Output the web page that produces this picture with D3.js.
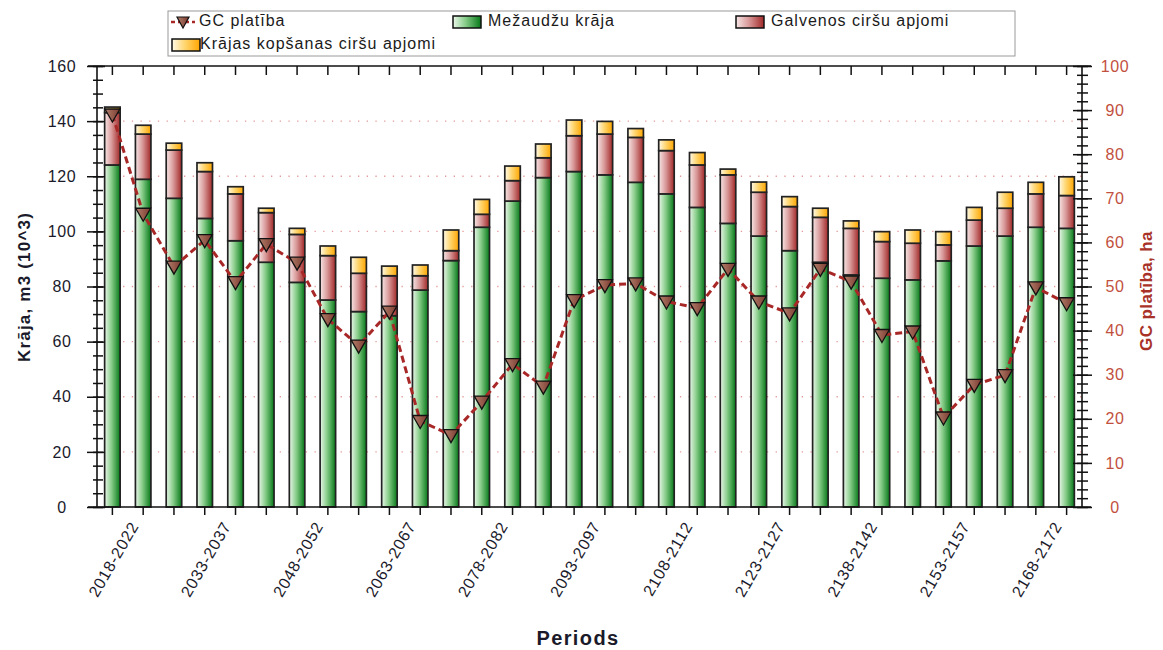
<!DOCTYPE html>
<html><head><meta charset="utf-8">
<script src="https://cdn.jsdelivr.net/npm/d3@7"></script>
<style>
body{margin:0;background:#fff;}
svg{display:block;font-family:"Liberation Sans",Arial,sans-serif;}
</style></head>
<body>
<svg id="chart" width="1163" height="650"></svg>
<script>
const periods = ["2018-2022","2023-2027","2028-2032","2033-2037","2038-2042","2043-2047","2048-2052","2053-2057","2058-2062","2063-2067","2068-2072","2073-2077","2078-2082","2083-2087","2088-2092","2093-2097","2098-2102","2103-2107","2108-2112","2113-2117","2118-2122","2123-2127","2128-2132","2133-2137","2138-2142","2143-2147","2148-2152","2153-2157","2158-2162","2163-2167","2168-2172","2173-2177"];
const mezauduKraja = [124.1,118.9,112.0,104.7,96.6,88.8,81.5,75.1,70.9,69.4,78.7,89.4,101.5,111.0,119.5,121.7,120.5,117.8,113.6,108.7,102.9,98.3,93.0,88.8,84.2,83.0,82.4,89.3,94.7,98.3,101.5,101.1];
const galvenosCirsi = [19.0,16.4,17.5,17.0,17.0,18.0,17.4,16.1,13.9,14.5,5.2,3.6,4.7,7.4,7.2,13.0,14.8,16.3,15.7,15.4,17.6,15.9,16.0,16.3,16.9,13.3,13.3,5.8,9.4,10.1,12.1,11.9];
const kopsanasCirsi = [2.0,3.2,2.5,3.2,2.6,1.6,2.2,3.5,5.8,3.5,3.9,7.5,5.4,5.3,5.0,5.7,4.6,3.2,3.9,4.5,2.1,3.7,3.6,3.3,2.7,3.6,4.8,4.8,4.6,5.8,4.2,6.8];
const gcPlatiba = [89,66.5,54.5,60.5,51,59.6,55.4,42.6,36.6,44.3,19.5,16.3,23.9,32.4,27.3,46.9,50.3,50.7,46.6,45.1,54.0,46.6,43.9,54.0,51.1,39.0,39.8,20.3,27.7,29.9,49.8,46.2];
const leftTicks = [0,20,40,60,80,100,120,140,160];
const rightTicks = [0,10,20,30,40,50,60,70,80,90,100];
const seriesNames = ["Mežaudžu krāja","Galvenos ciršu apjomi","Krājas kopšanas ciršu apjomi"];
const lineName = "GC platība";

const svg = d3.select("#chart");
const L = 97, R = 1082, T = 66, B = 507;
const x = d3.scaleBand().domain(periods).range([L, R]);
const y = d3.scaleLinear().domain([0,160]).range([B, T]);
const y2 = d3.scaleLinear().domain([0,100]).range([B, T]);
const font = '"Liberation Sans",Arial,sans-serif';

// gradients
const defs = svg.append("defs");
function grad(id, c0, c1, c2){
  const g = defs.append("linearGradient").attr("id", id).attr("x1",0).attr("x2",1).attr("y1",0).attr("y2",0);
  g.append("stop").attr("offset","0%").attr("stop-color",c0);
  g.append("stop").attr("offset","45%").attr("stop-color",c1);
  g.append("stop").attr("offset","100%").attr("stop-color",c2);
}
grad("gGreen","#eaf7ea","#86cc88","#067818");
grad("gRed","#f7e6e6","#d99a9a","#a22828");
grad("gYellow","#fffaea","#ffd670","#ffa600");
grad("gMarker","#b0806e","#9a6050","#7a3a30");
const fills = ["url(#gGreen)","url(#gRed)","url(#gYellow)"];

// grid
svg.append("g").selectAll("line").data(leftTicks.filter(d=>d>0 && d<160)).join("line")
  .attr("x1", L).attr("x2", R).attr("y1", d=>y(d)).attr("y2", d=>y(d))
  .attr("stroke","#e49a9a").attr("stroke-width",1.3).attr("stroke-dasharray","1.3,7.4");

// stacked bars
const table = periods.map((p,i)=>({p, a:mezauduKraja[i], b:galvenosCirsi[i], c:kopsanasCirsi[i]}));
const stack = d3.stack().keys(["a","b","c"])(table);
const bw = 15.5;
svg.append("g").selectAll("g").data(stack).join("g")
  .attr("fill",(d,i)=>fills[i])
  .selectAll("rect").data(d=>d).join("rect")
  .attr("x", d=>x(d.data.p)+x.bandwidth()/2-bw/2)
  .attr("width", bw)
  .attr("y", d=>y(d[1]))
  .attr("height", d=>y(d[0])-y(d[1]))
  .attr("stroke","#222").attr("stroke-width",1.7);

// axes
const cx = d=>x(d)+x.bandwidth()/2;
// left axis
const gl = svg.append("g").attr("transform",`translate(${L},0)`)
  .call(d3.axisLeft(y).tickValues(d3.range(0,161,5)).tickSize(4).tickFormat(""));
gl.selectAll(".tick line").attr("x1",6).attr("stroke","#111").attr("stroke-width",1.5);
gl.select(".domain").remove();
const glm = svg.append("g").attr("transform",`translate(${L},0)`)
  .call(d3.axisLeft(y).tickValues(leftTicks).tickSize(10).tickFormat(d3.format("d")));
glm.selectAll(".tick line").attr("x1",8).attr("stroke","#111").attr("stroke-width",1.5);
glm.select(".domain").remove();
glm.selectAll(".tick text").attr("x",-35).attr("text-anchor","middle")
  .attr("font-size",16).attr("font-family",font).attr("letter-spacing","0.6px").attr("fill","#1a1a2a");

// right axis
const gr = svg.append("g").attr("transform",`translate(${R},0)`)
  .call(d3.axisRight(y2).tickValues(d3.range(0,101,2)).tickSize(6).tickFormat(""));
gr.selectAll(".tick line").attr("x1",-5).attr("stroke","#111").attr("stroke-width",1.5);
gr.select(".domain").remove();
const grm = svg.append("g").attr("transform",`translate(${R},0)`)
  .call(d3.axisRight(y2).tickValues(rightTicks).tickSize(10).tickFormat(d3.format("d")));
grm.selectAll(".tick line").attr("x1",-9).attr("stroke","#111").attr("stroke-width",1.5);
grm.select(".domain").remove();
grm.selectAll(".tick text").attr("x",33).attr("text-anchor","middle")
  .attr("font-size",16).attr("font-family",font).attr("letter-spacing","0.6px").attr("fill","#c2503e");

// bottom axis
const gb = svg.append("g").attr("transform",`translate(0,${B})`)
  .call(d3.axisBottom(x).tickSize(8).tickFormat((d,i)=> i%3===0 ? d : ""));
gb.select(".domain").remove();
gb.selectAll(".tick line").attr("stroke","#111").attr("stroke-width",1.5);
gb.selectAll(".tick text")
  .attr("font-size",16).attr("font-family",font).attr("letter-spacing","0.8px").attr("fill","#1a1a2a")
  .attr("text-anchor","end").attr("dy","0.35em").attr("y",0)
  .attr("transform","translate(22,16) rotate(-60)");
// top axis ticks
const gt = svg.append("g").attr("transform",`translate(0,${T})`)
  .call(d3.axisTop(x).tickSize(-9).tickFormat(""));
gt.select(".domain").remove();
gt.selectAll(".tick line").attr("stroke","#111").attr("stroke-width",1.5);

// frame lines
const frame = svg.append("g").attr("stroke","#111").attr("stroke-width",1.6);
frame.append("line").attr("x1",88).attr("x2",1091).attr("y1",B).attr("y2",B);
frame.append("line").attr("x1",88).attr("x2",1091).attr("y1",T).attr("y2",T);
frame.append("line").attr("x1",L).attr("x2",L).attr("y1",T).attr("y2",B);
frame.append("line").attr("x1",R).attr("x2",R).attr("y1",T).attr("y2",B);

// line series
const lineGen = d3.line().x((d,i)=>cx(periods[i])).y(d=>y2(d));
svg.append("path").datum(gcPlatiba).attr("d",lineGen)
  .attr("fill","none").attr("stroke","#a82828").attr("stroke-width",3).attr("stroke-dasharray","7,4");
const tri = "M-7.5,-5.5 L7.5,-5.5 L0,7.5 Z";
svg.append("g").selectAll("path").data(gcPlatiba).join("path")
  .attr("transform",(d,i)=>`translate(${cx(periods[i])},${y2(d)})`)
  .attr("d",tri).attr("fill","url(#gMarker)").attr("stroke","#111").attr("stroke-width",1.3);

// axis titles
svg.append("text").attr("transform","translate(26,287) rotate(-90)").attr("text-anchor","middle")
  .attr("dominant-baseline","middle").attr("font-size",17).attr("font-weight","bold").attr("font-family",font)
  .attr("letter-spacing","1.2px").attr("fill","#1a1a2a").text("Krāja, m3 (10^3)");
svg.append("text").attr("transform","translate(1148,291) rotate(-90)").attr("text-anchor","middle")
  .attr("dominant-baseline","middle").attr("font-size",17).attr("font-weight","bold").attr("font-family",font)
  .attr("letter-spacing","0.4px").attr("fill","#a83228").text("GC platība, ha");
svg.append("text").attr("x",578).attr("y",640).attr("text-anchor","middle")
  .attr("dominant-baseline","middle").attr("font-size",20).attr("font-weight","bold").attr("font-family",font)
  .attr("letter-spacing","1.4px").attr("fill","#1a1a2a").text("Periods");

// legend
const lg = svg.append("g");
lg.append("rect").attr("x",168).attr("y",11).attr("width",847).attr("height",45)
  .attr("fill","#fff").attr("stroke","#9a9a9a").attr("stroke-width",1);
const li = lg.append("g").attr("transform","translate(171,22)");
li.append("line").attr("x1",0).attr("x2",24).attr("stroke","#a82828").attr("stroke-width",2.5).attr("stroke-dasharray","4,3");
li.append("path").attr("d","M-6,-5 L6,-5 L0,6 Z").attr("transform","translate(12,0)")
  .attr("fill","url(#gMarker)").attr("stroke","#111").attr("stroke-width",1.2);
li.append("text").attr("x",28).attr("dominant-baseline","middle").attr("font-size",16).attr("font-family",font)
  .attr("letter-spacing","1px").attr("fill","#1a1a1a").text(lineName);
const legPos = [[453,22],[736,22],[172,45]];
seriesNames.forEach((n,i)=>{
  const g = lg.append("g").attr("transform",`translate(${legPos[i][0]},${legPos[i][1]})`);
  g.append("rect").attr("x",0).attr("y",-6).attr("width",28).attr("height",12)
    .attr("fill",fills[i]).attr("stroke","#111").attr("stroke-width",1.5);
  g.append("text").attr("x",i===2?28:35).attr("dominant-baseline","middle").attr("font-size",16).attr("font-family",font)
    .attr("letter-spacing","1px").attr("fill","#1a1a1a").text(n);
});
</script>
</body></html>
